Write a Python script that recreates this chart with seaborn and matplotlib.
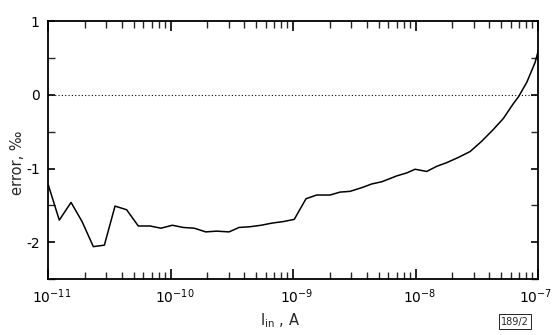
import numpy as np
import pandas as pd
import matplotlib
matplotlib.use("Agg")
import matplotlib.pyplot as plt
import matplotlib.transforms as mtransforms
import seaborn as sns
from matplotlib.ticker import LogLocator, MultipleLocator, FixedLocator, LogFormatterSciNotation

# -----------------------------
# DATA
# -----------------------------

log_current = [-11.000, -10.908, -10.812, -10.722, -10.630, -10.540, -10.453, -10.358,
               -10.263, -10.167, -10.078, -9.985, -9.896, -9.806, -9.713, -9.623,
               -9.522, -9.441, -9.351, -9.261, -9.169, -9.079, -8.990, -8.894,
               -8.807, -8.698, -8.616, -8.535, -8.439, -8.358, -8.276, -8.153,
               -8.072, -8.004, -7.909, -7.827, -7.745, -7.651, -7.555, -7.460,
               -7.365, -7.283, -7.202, -7.161, -7.092, -7.024, -6.998]
error_pm = [-1.21, -1.70, -1.46, -1.72, -2.06, -2.04, -1.51, -1.56,
            -1.78, -1.78, -1.81, -1.77, -1.80, -1.81, -1.86, -1.85,
            -1.86, -1.80, -1.79, -1.77, -1.74, -1.72, -1.69, -1.41,
            -1.36, -1.36, -1.32, -1.31, -1.26, -1.21, -1.18, -1.10,
            -1.06, -1.01, -1.04, -0.97, -0.92, -0.85, -0.77, -0.63,
            -0.47, -0.32, -0.12, -0.03, 0.17, 0.44, 0.60]

x_ticks = [1e-11, 1e-10, 1e-9, 1e-8, 1e-7]
y_ticks = [1, 0, -1, -2]
y_tick_labels = ["1", "0", "-1", "-2"]

df = pd.DataFrame({"I_in": 10.0 ** np.array(log_current), "error": error_pm})

# -----------------------------
# PLOT
# -----------------------------

sns.set_style("ticks")
plt.rcParams['font.family'] = ['DejaVu Sans']

fig = plt.figure(figsize=(5.55, 3.35), dpi=100)
ax = fig.add_axes([0.0865, 0.167, 0.883, 0.77])

sns.lineplot(data=df, x="I_in", y="error", color="black", linewidth=1.1, ax=ax)
ax.axhline(0, color="black", linestyle=(0, (1, 2)), linewidth=0.8)

ax.set_xscale("log")
ax.set_xlim(1e-11, 1e-7)
ax.set_ylim(-2.5, 1)

ax.xaxis.set_major_locator(FixedLocator(x_ticks))
ax.xaxis.set_major_formatter(LogFormatterSciNotation())
ax.xaxis.set_minor_locator(LogLocator(base=10, subs=np.arange(2, 10), numticks=10))
ax.yaxis.set_major_locator(FixedLocator(y_ticks))
ax.set_yticklabels(y_tick_labels)
ax.yaxis.set_minor_locator(MultipleLocator(0.5))

for side in ["top", "right", "left", "bottom"]:
    ax.spines[side].set_visible(True)
    ax.spines[side].set_linewidth(1.3)
    ax.spines[side].set_color("black")

ax.tick_params(which="major", direction="in", top=True, right=True, length=7, width=1.2,
               labelsize=10, pad=6, colors="black")
ax.tick_params(which="minor", direction="in", top=True, right=True, length=5, width=1.0)
ax.tick_params(axis="y", which="major", length=5)

# nudge the x tick labels a little, as in the scan; keep the last one inside the figure
fig.canvas.draw()
for i, lab in enumerate(ax.get_xticklabels()):
    dx = 3 / 72 if i < len(x_ticks) - 1 else -2 / 72
    lab.set_transform(lab.get_transform() + mtransforms.ScaledTranslation(dx, 0, fig.dpi_scale_trans))

ax.set_xlabel(r"I$_{\rm in}$ , A", fontsize=10.5)
ax.xaxis.set_label_coords(0.473, -0.125)
ax.set_ylabel("error, ‰", fontsize=10.5)
ax.yaxis.set_label_coords(-0.047, 0.45)

fig.text(0.928, 0.04, "189/2", fontsize=7, ha="center", va="center",
         bbox=dict(boxstyle="square,pad=0.25", fc="white", ec="black", lw=0.6))

fig.savefig("out.png", dpi=100)
